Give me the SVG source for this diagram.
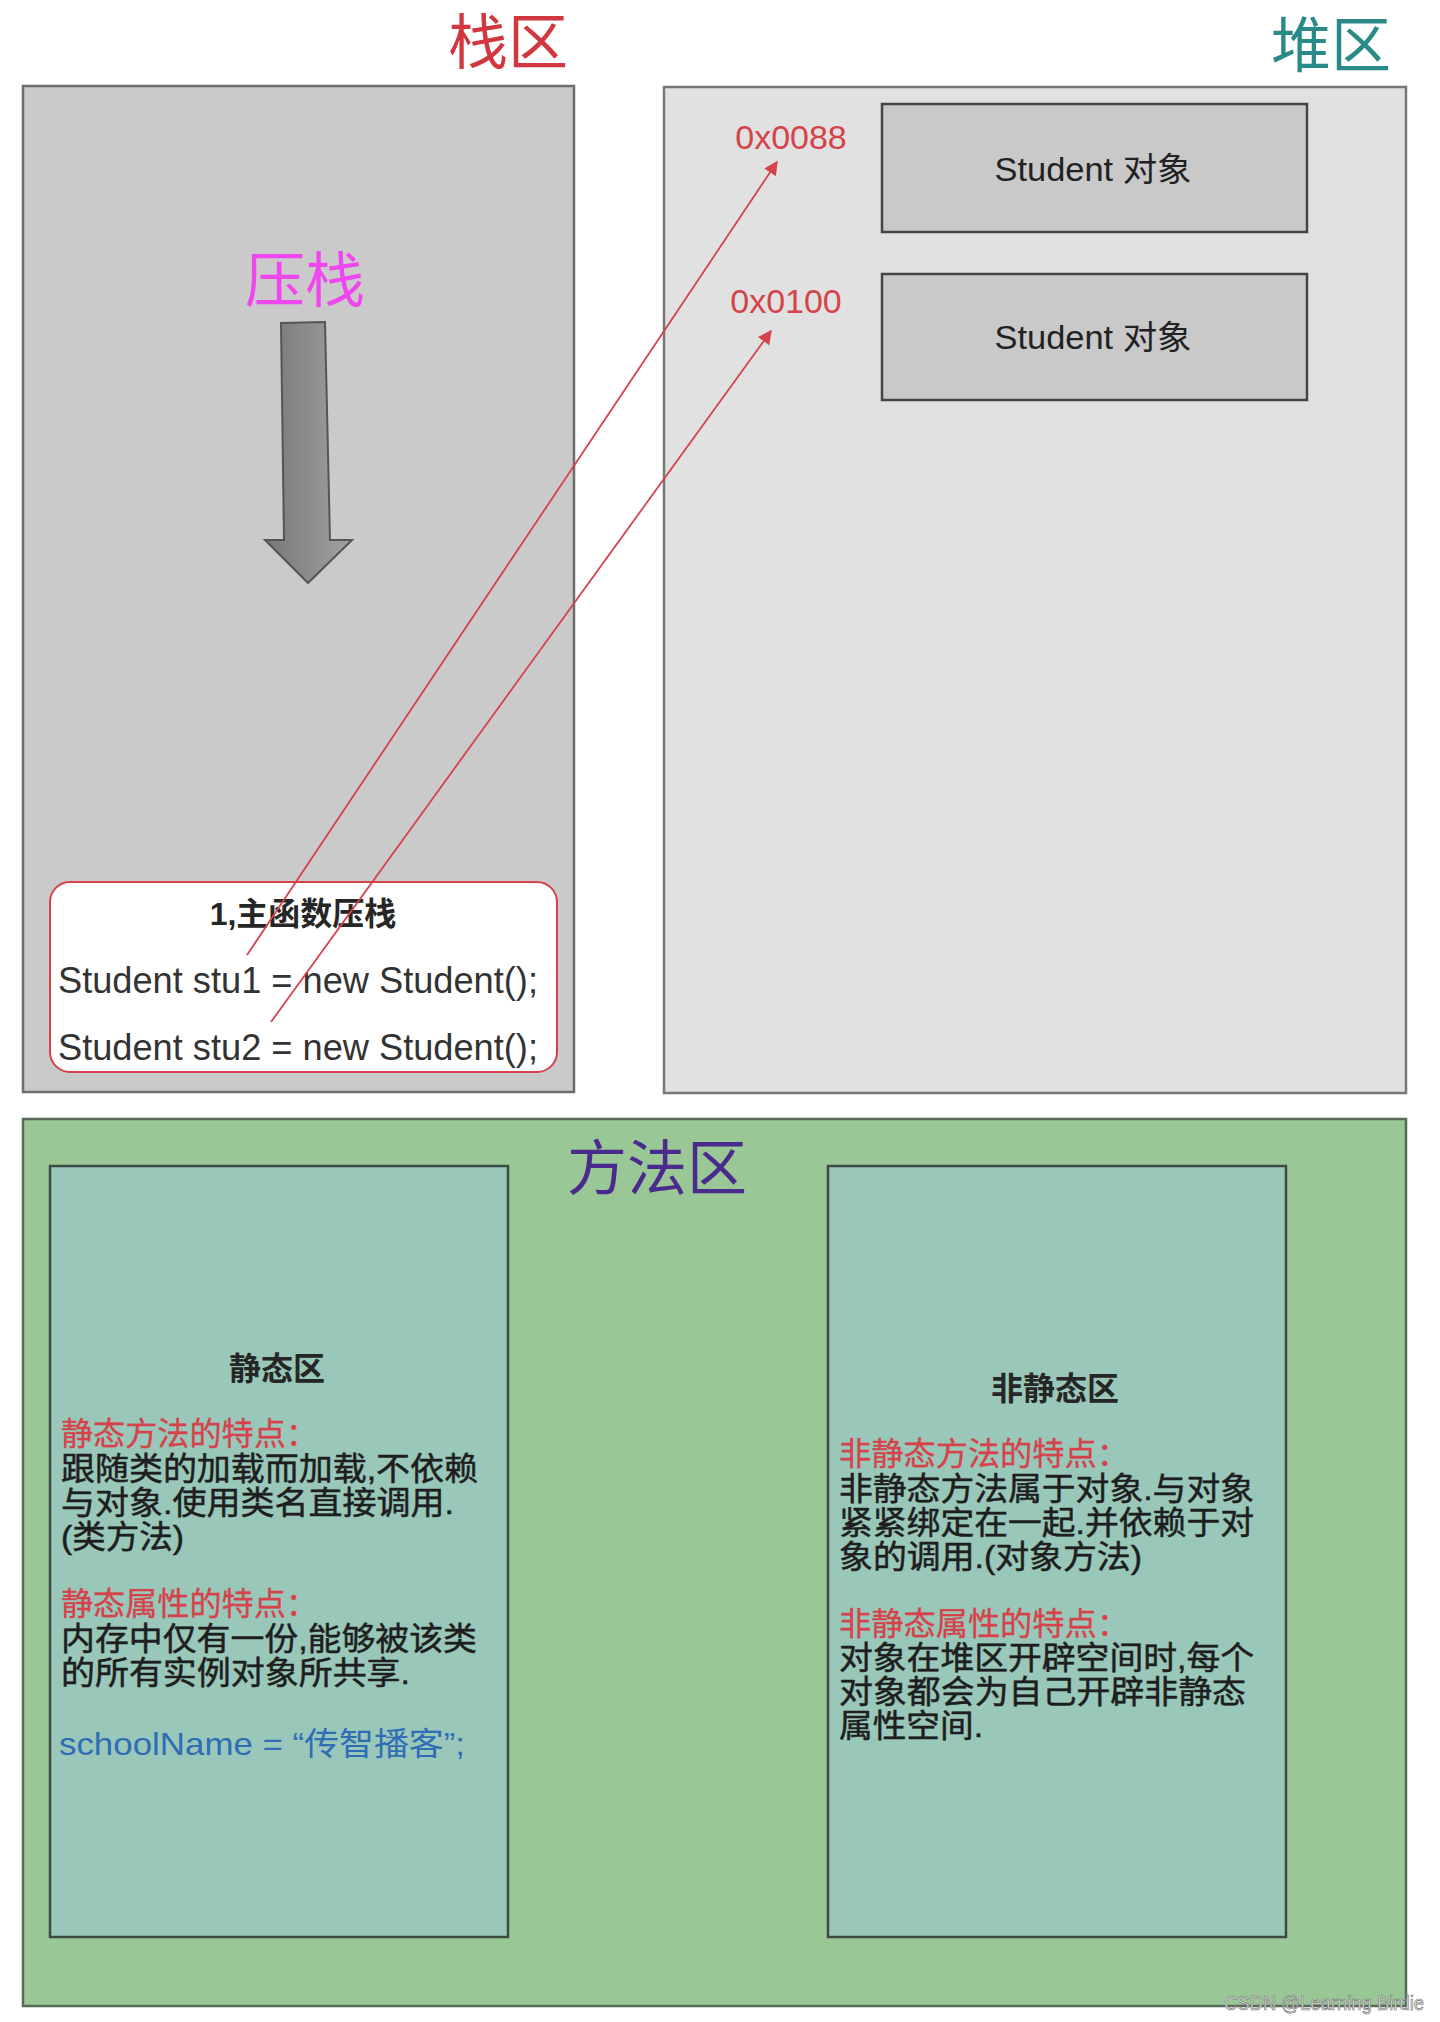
<svg xmlns="http://www.w3.org/2000/svg" width="1440" height="2022" viewBox="0 0 1440 2022">
<style>
.cjk{font-family:"Liberation Sans","Noto Sans CJK SC",sans-serif}
.title{font-size:60px;text-anchor:middle}
.body{font-size:32px;fill:#1e1e1e;stroke:#1e1e1e;stroke-width:0.5}
.red{fill:#d6424a;stroke:#d6424a;stroke-width:0.3}
.obj{font-size:33px;fill:#222;text-anchor:middle}
.addr{font-size:34px;fill:#d6424a;text-anchor:middle}
.code{font-size:36px;fill:#333}
.sub{font-size:32px;fill:#262626;text-anchor:middle;font-weight:bold}
</style>
<defs>
<linearGradient id="ag" x1="0" y1="0" x2="1" y2="0">
<stop offset="0" stop-color="#777"/>
<stop offset="1" stop-color="#a2a2a2"/>
</linearGradient>
<marker id="ah" viewBox="0 0 10 10" refX="9" refY="5" markerWidth="14" markerHeight="14" markerUnits="userSpaceOnUse" orient="auto">
<path d="M0,0 L10,5 L0,10 z" fill="#d6424a"/>
</marker>
</defs>
<rect x="0" y="0" width="1440" height="2022" fill="#ffffff"/>

<g id="stack-title"><text class="cjk title" x="508" y="64" fill="#d0373f">栈区</text></g>
<g id="heap-title"><text class="cjk title" x="1331" y="67" fill="#2a8a88">堆区</text></g>

<g id="stack">
<rect x="23" y="86" width="551" height="1006" fill="#cacaca" stroke="#6e6e6e" stroke-width="2.5"/>
<text class="cjk title" x="305" y="302" fill="#f046f0">压栈</text>
<polygon points="281,323 325,322 330,540 352,540 308,583 265,540 284,540" fill="url(#ag)" stroke="#555" stroke-width="2"/>
</g>

<g id="heap">
<rect x="664" y="87" width="742" height="1006" fill="#e1e1e1" stroke="#777" stroke-width="2.5"/>
</g>

<g id="obj1">
<rect x="882" y="104" width="425" height="128" fill="#c9c9c9" stroke="#444" stroke-width="2.5"/>
<text class="cjk obj" x="1093" y="181" textLength="197" lengthAdjust="spacingAndGlyphs">Student 对象</text>
</g>
<g id="obj2">
<rect x="882" y="274" width="425" height="126" fill="#c9c9c9" stroke="#444" stroke-width="2.5"/>
<text class="cjk obj" x="1093" y="349" textLength="197" lengthAdjust="spacingAndGlyphs">Student 对象</text>
</g>
<g id="addr1"><text class="cjk addr" x="791" y="149">0x0088</text></g>
<g id="addr2"><text class="cjk addr" x="786" y="313">0x0100</text></g>

<g id="main">
<rect x="50" y="882" width="507" height="190" rx="20" ry="20" fill="#ffffff" stroke="#d6424a" stroke-width="2"/>
<text class="cjk sub" x="303" y="925" fill="#333">1,主函数压栈</text>
<text class="code" x="58" y="993" font-family="Liberation Sans, sans-serif" textLength="480" lengthAdjust="spacingAndGlyphs">Student stu1 = new Student();</text>
<text class="code" x="58" y="1060" font-family="Liberation Sans, sans-serif" textLength="480" lengthAdjust="spacingAndGlyphs">Student stu2 = new Student();</text>
</g>

<g id="method-area">
<rect x="23" y="1119" width="1383" height="887" fill="#9ac796" stroke="#5a6a58" stroke-width="2.5"/>
<text class="cjk title" x="657" y="1190" fill="#4a2a8c">方法区</text>
</g>

<g id="static">
<rect x="50" y="1166" width="458" height="771" fill="#99c7b9" stroke="#3e4a44" stroke-width="2.5"/>
<text class="cjk sub" x="277" y="1380">静态区</text>
<text class="cjk body red" x="61" y="1445" textLength="257" lengthAdjust="spacingAndGlyphs">静态方法的特点：</text>
<text class="cjk body" x="61" y="1480" textLength="417" lengthAdjust="spacingAndGlyphs">跟随类的加载而加载,不依赖</text>
<text class="cjk body" x="61" y="1514" textLength="393" lengthAdjust="spacingAndGlyphs">与对象.使用类名直接调用.</text>
<text class="cjk body" x="61" y="1548" textLength="123" lengthAdjust="spacingAndGlyphs">(类方法)</text>
<text class="cjk body red" x="61" y="1615" textLength="257" lengthAdjust="spacingAndGlyphs">静态属性的特点：</text>
<text class="cjk body" x="61" y="1650" textLength="416" lengthAdjust="spacingAndGlyphs">内存中仅有一份,能够被该类</text>
<text class="cjk body" x="61" y="1684" textLength="349" lengthAdjust="spacingAndGlyphs">的所有实例对象所共享.</text>
<text class="cjk" x="59" y="1755" font-size="32" fill="#2f6db5" textLength="406" lengthAdjust="spacingAndGlyphs">schoolName = “传智播客”;</text>
</g>

<g id="nonstatic">
<rect x="828" y="1166" width="458" height="771" fill="#99c7b9" stroke="#3e4a44" stroke-width="2.5"/>
<text class="cjk sub" x="1055" y="1400">非静态区</text>
<text class="cjk body red" x="839" y="1465" textLength="290" lengthAdjust="spacingAndGlyphs">非静态方法的特点：</text>
<text class="cjk body" x="839" y="1500" textLength="415" lengthAdjust="spacingAndGlyphs">非静态方法属于对象.与对象</text>
<text class="cjk body" x="839" y="1534" textLength="415" lengthAdjust="spacingAndGlyphs">紧紧绑定在一起.并依赖于对</text>
<text class="cjk body" x="839" y="1568" textLength="303" lengthAdjust="spacingAndGlyphs">象的调用.(对象方法)</text>
<text class="cjk body red" x="839" y="1635" textLength="290" lengthAdjust="spacingAndGlyphs">非静态属性的特点：</text>
<text class="cjk body" x="839" y="1669" textLength="415" lengthAdjust="spacingAndGlyphs">对象在堆区开辟空间时,每个</text>
<text class="cjk body" x="839" y="1703" textLength="407" lengthAdjust="spacingAndGlyphs">对象都会为自己开辟非静态</text>
<text class="cjk body" x="839" y="1737" textLength="144" lengthAdjust="spacingAndGlyphs">属性空间.</text>
</g>

<g id="connectors" fill="none" stroke="#d6424a" stroke-width="1.8">
<line x1="247" y1="955" x2="777" y2="162" marker-end="url(#ah)"/>
<line x1="271" y1="1022" x2="771" y2="331" marker-end="url(#ah)"/>
</g>

<g id="watermark"><text x="1424" y="2010" font-family="Liberation Sans Narrow, Liberation Sans, sans-serif" font-size="21" fill="#e0e0e0" stroke="#6a6a6a" stroke-width="0.6" text-anchor="end" textLength="200" lengthAdjust="spacingAndGlyphs">CSDN @Learning Birdie</text></g>
</svg>
